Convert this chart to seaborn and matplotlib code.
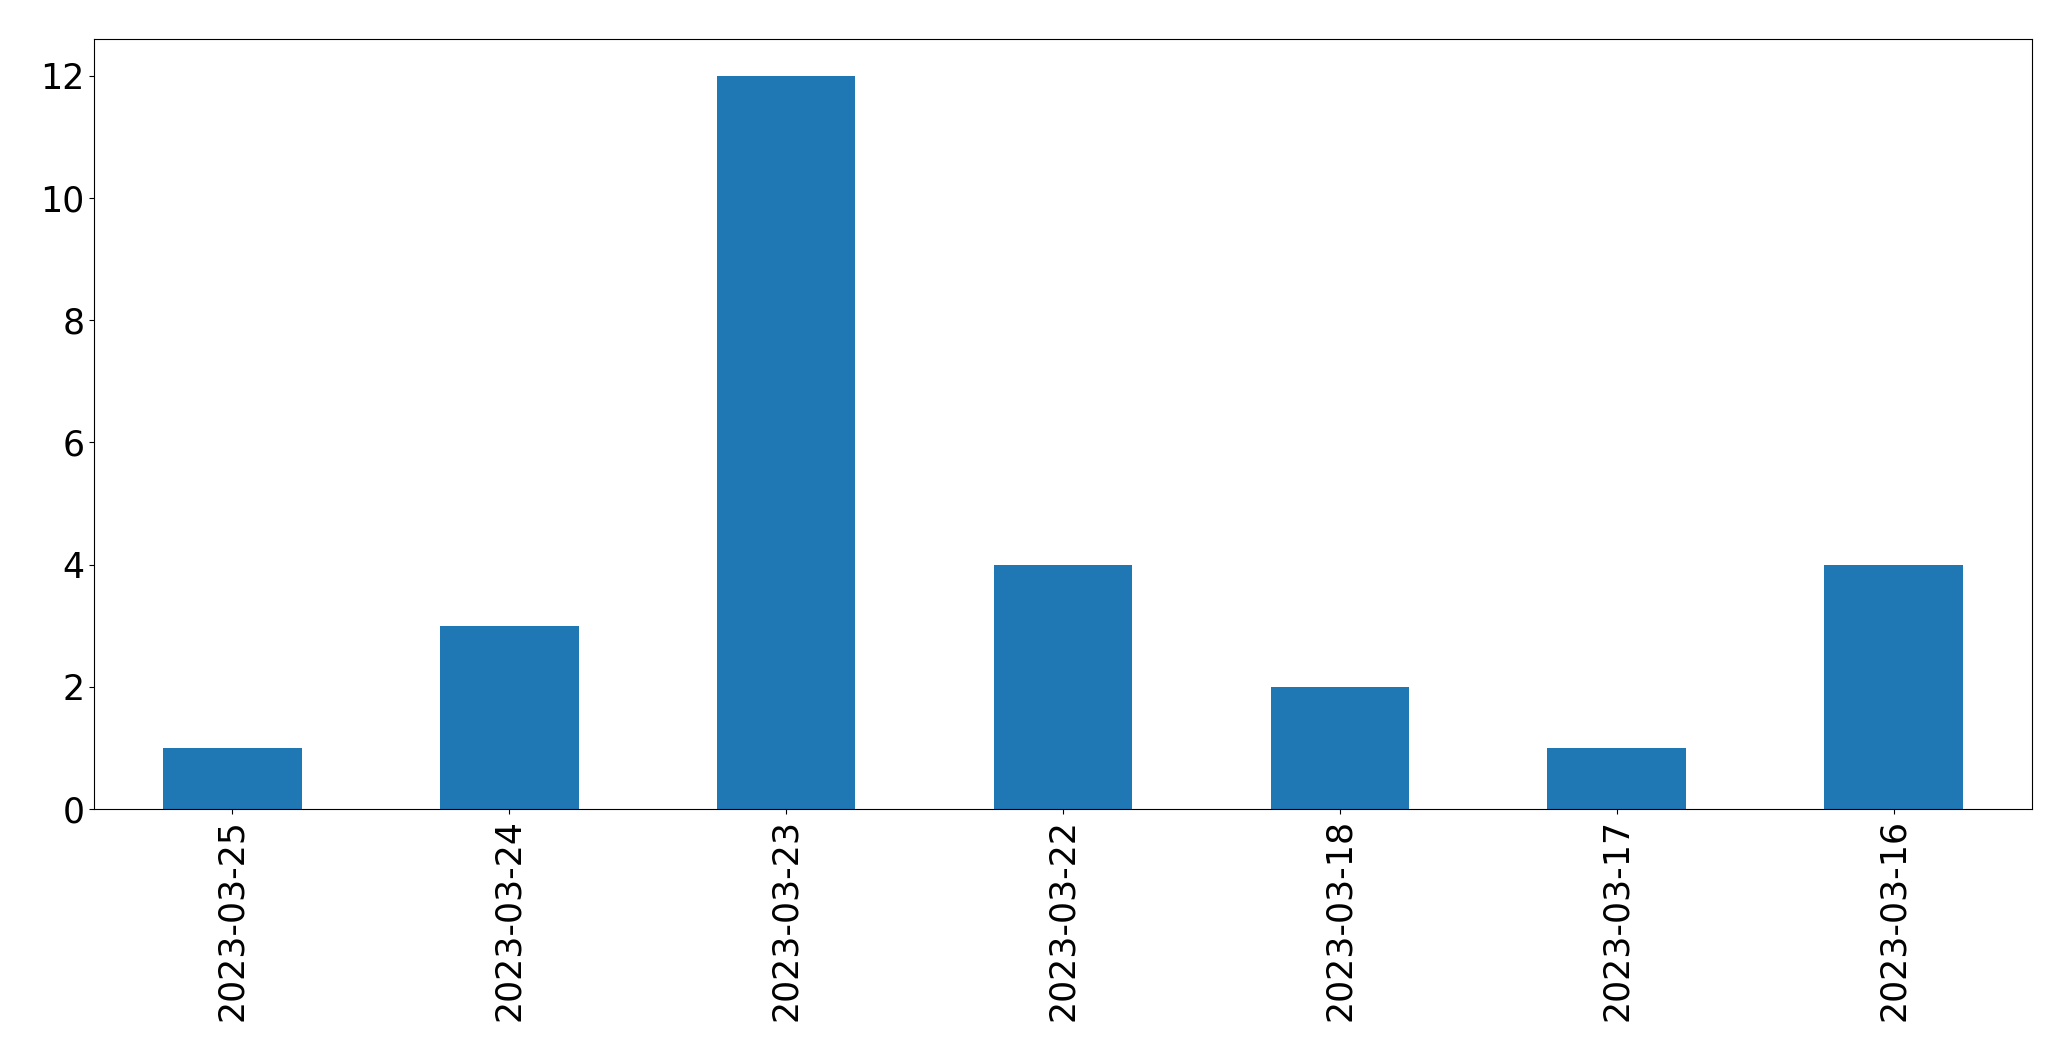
import matplotlib
matplotlib.use("Agg")
import matplotlib.pyplot as plt
import seaborn as sns
import pandas as pd

dates = ["2023-03-25", "2023-03-24", "2023-03-23", "2023-03-22",
         "2023-03-18", "2023-03-17", "2023-03-16"]
counts = [1, 3, 12, 4, 2, 1, 4]

df = pd.DataFrame({"date": dates, "count": counts})

fig = plt.figure(figsize=(20.71, 10.61), dpi=100)
ax = fig.add_axes([94/2071, 1 - 809/1061, (2032-94)/2071, (809-39.3)/1061])
sns.barplot(data=df, x="date", y="count", order=dates, color="#1f77b4",
            saturation=1, width=0.5, ax=ax, errorbar=None)
for p in ax.patches:
    p.set_edgecolor("none")
    p.set_linewidth(0)
ax.set_xlabel("")
ax.set_ylabel("")
ax.set_xlim(-0.5, len(dates) - 0.5)
ax.set_ylim(0, 12.6)
ax.set_yticks([0, 2, 4, 6, 8, 10, 12])
ax.tick_params(axis="both", labelsize=25)
plt.setp(ax.get_xticklabels(), rotation=90)
fig.savefig("out.png", dpi=100)
